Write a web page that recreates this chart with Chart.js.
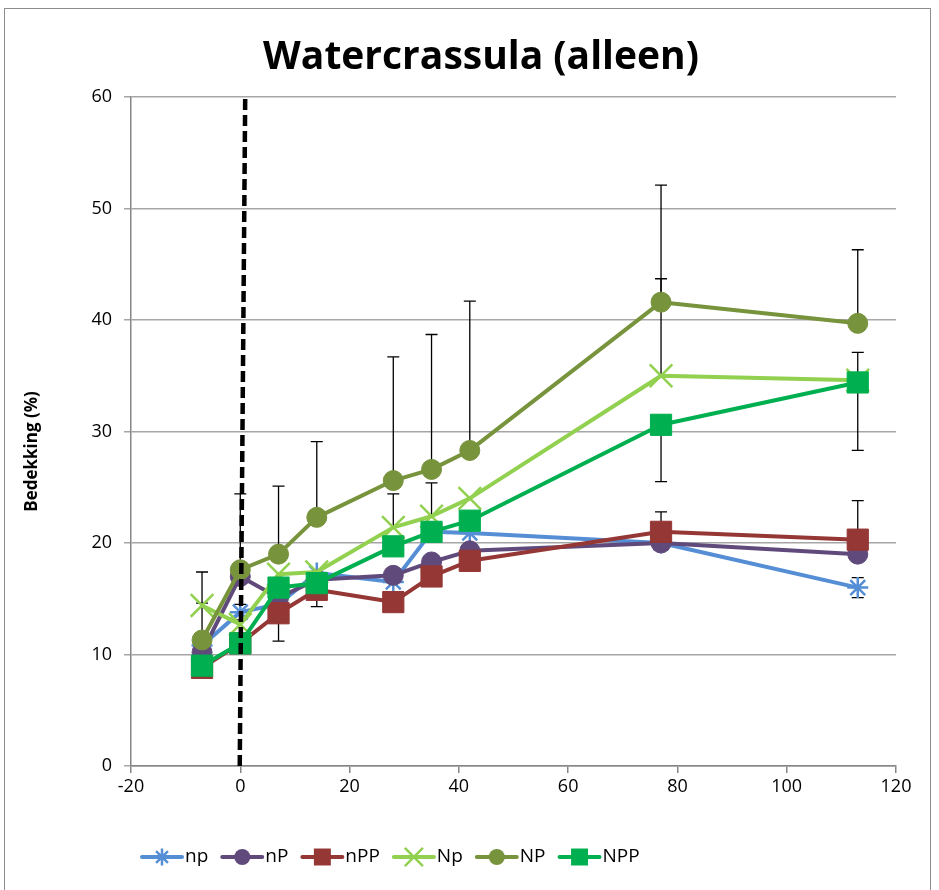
<!DOCTYPE html>
<html>
<head>
<meta charset="utf-8">
<script src="https://cdn.jsdelivr.net/npm/chart.js@4.4.0/dist/chart.umd.min.js"></script>
<style>
  html, body { margin: 0; padding: 0; background: #fff; }
  #wrap { position: relative; width: 939px; height: 890px; overflow: hidden; }
  #frame { position: absolute; left: 4px; top: 8px; width: 927px; height: 900px; border: 1.5px solid #8c8c8c; box-sizing: border-box; }
  canvas { position: absolute; left: 0; top: 0; }
</style>
</head>
<body>
<div id="wrap">
  <div id="frame"></div>
  <canvas id="chart" width="939" height="890"></canvas>
</div>
<script>
const FONT = '"Open Sans", "Liberation Sans", sans-serif';

// days relative to start of treatment
const days = [-7, 0, 7, 14, 28, 35, 42, 77, 113];

// Bedekking (%) per treatment
const npValues  = [10.8, 13.8, 14.5, 17.3, 16.5, 21.0, 20.9, 20.0, 16.0];
const nPValues  = [10.2, 17.0, 15.1, 16.7, 17.1, 18.3, 19.3, 20.0, 19.0];
const nPPValues = [8.8, 11.0, 13.7, 15.8, 14.7, 17.0, 18.4, 21.0, 20.3];
const NpValues  = [14.4, 12.7, 17.2, 17.4, 21.4, 22.4, 24.0, 35.0, 34.6];
const NPValues  = [11.3, 17.6, 19.0, 22.3, 25.6, 26.6, 28.3, 41.6, 39.7];
const NPPValues = [9.0, 11.0, 16.0, 16.4, 19.7, 21.0, 22.0, 30.6, 34.4];

// error bars (up / down), null = not shown
const npErrUp    = [null, 0.7, null, null, null, null, null, null, 0.9];
const npErrDown  = [null, 0.7, null, null, null, null, null, null, 0.9];
const nPPErrUp   = [null, null, null, null, null, null, null, 1.8, 3.5];
const nPPErrDown = [null, null, 2.5, 1.5, null, null, null, null, null];
const NpErrUp    = [3.0, null, null, null, 3.0, 3.0, null, 8.7, null];
const NpErrDown  = [null, null, null, null, null, null, null, null, 6.3];
const NPErrUp    = [3.3, 6.8, 6.1, 6.8, 11.1, 12.1, 13.4, 10.5, 6.6];
const NPPErrUp   = [null, null, null, null, null, null, null, null, 2.7];
const NPPErrDown = [null, null, null, null, null, null, null, 5.1, null];

// dashed marker line at day 0
const refLineX = [-0.1, 0.9];
const refLineY = [0, 60];

const xTicks = [-20, 0, 20, 40, 60, 80, 100, 120];

const series = [
  { label: 'np',  values: npValues,  color: '#558ED5', style: 'star',     radius: 10.5, bw: 2.5, up: npErrUp,  down: npErrDown },
  { label: 'nP',  values: nPValues,  color: '#604A7B', style: 'circle',   radius: 10,   bw: 1,   up: null,     down: null },
  { label: 'nPP', values: nPPValues, color: '#953735', style: 'rect',     radius: 15,   bw: 1,   up: nPPErrUp, down: nPPErrDown },
  { label: 'Np',  values: NpValues,  color: '#92D050', style: 'crossRot', radius: 16,   bw: 2.5, up: NpErrUp,  down: NpErrDown },
  { label: 'NP',  values: NPValues,  color: '#77933C', style: 'circle',   radius: 10,   bw: 1,   up: NPErrUp,  down: null },
  { label: 'NPP', values: NPPValues, color: '#00B050', style: 'rect',     radius: 15,   bw: 1,   up: NPPErrUp, down: NPPErrDown }
];

const datasets = series.map((s, i) => ({
  label: s.label,
  data: days.map((d, k) => ({ x: d, y: s.values[k] })),
  borderColor: s.color,
  backgroundColor: s.color,
  borderWidth: 4,
  borderJoinStyle: 'round',
  borderCapStyle: 'round',
  pointStyle: s.style,
  pointRadius: s.radius,
  pointHoverRadius: s.radius,
  pointBorderWidth: s.bw,
  pointBackgroundColor: s.color,
  pointBorderColor: s.color,
  tension: 0,
  order: series.length - i
}));

datasets.push({
  label: '',
  data: refLineX.map((x, k) => ({ x: x, y: refLineY[k] })),
  borderColor: '#000',
  borderWidth: 4.5,
  borderDash: [11, 5],
  pointRadius: 0,
  order: 0
});

function drawMarker(ctx, style, r, x, y) {
  ctx.beginPath();
  if (style === 'circle') {
    ctx.arc(x, y, r, 0, Math.PI * 2);
    ctx.fill();
  } else if (style === 'rect') {
    const h = r * Math.SQRT1_2;
    ctx.fillRect(x - h, y - h, 2 * h, 2 * h);
  } else {
    const d = r * Math.SQRT1_2;
    ctx.moveTo(x - d, y - d); ctx.lineTo(x + d, y + d);
    ctx.moveTo(x - d, y + d); ctx.lineTo(x + d, y - d);
    if (style === 'star') {
      ctx.moveTo(x, y - r); ctx.lineTo(x, y + r);
      ctx.moveTo(x - r, y); ctx.lineTo(x + r, y);
    }
    ctx.stroke();
  }
}

const errorBars = {
  id: 'errorBars',
  beforeDatasetsDraw(chart) {
    const { ctx, scales } = chart;
    const xs = scales.x, ys = scales.y;
    ctx.save();
    ctx.strokeStyle = '#000';
    ctx.lineWidth = 1.3;
    series.forEach(s => {
      days.forEach((d, k) => {
        const px = xs.getPixelForValue(d);
        const py = ys.getPixelForValue(s.values[k]);
        [[s.up, 1], [s.down, -1]].forEach(([arr, sign]) => {
          if (!arr || arr[k] == null) return;
          const ey = ys.getPixelForValue(s.values[k] + sign * arr[k]);
          ctx.beginPath();
          ctx.moveTo(px, py); ctx.lineTo(px, ey);
          ctx.moveTo(px - 6, ey); ctx.lineTo(px + 6, ey);
          ctx.stroke();
        });
      });
    });
    ctx.restore();
  }
};

const extras = {
  id: 'extras',
  afterDraw(chart) {
    const { ctx, chartArea } = chart;
    // chart title
    ctx.save();
    ctx.font = 'bold 39px ' + FONT;
    ctx.fillStyle = '#000';
    ctx.textAlign = 'center';
    ctx.textBaseline = 'middle';
    ctx.fillText('Watercrassula (alleen)', 481, 58);
    ctx.restore();

    // y axis title
    ctx.save();
    ctx.translate(32, (chartArea.top + chartArea.bottom) / 2 + 20);
    ctx.rotate(-Math.PI / 2);
    ctx.font = 'bold 17px ' + FONT;
    ctx.fillStyle = '#000';
    ctx.textAlign = 'center';
    ctx.textBaseline = 'middle';
    ctx.fillText('Bedekking (%)', 0, 0);
    ctx.restore();

    // legend
    ctx.save();
    ctx.font = '19px ' + FONT;
    ctx.textBaseline = 'middle';
    let x = 142;
    const y = 857;
    series.forEach(s => {
      ctx.strokeStyle = s.color;
      ctx.fillStyle = s.color;
      ctx.lineWidth = 4;
      ctx.lineCap = 'round';
      ctx.beginPath();
      ctx.moveTo(x, y); ctx.lineTo(x + 40, y);
      ctx.stroke();
      ctx.lineWidth = s.bw;
      ctx.lineCap = 'butt';
      drawMarker(ctx, s.style, s.radius * 0.8, x + 20, y);
      ctx.fillStyle = '#000';
      ctx.fillText(s.label, x + 43, y);
      x += 43 + ctx.measureText(s.label).width + 14;
    });
    ctx.restore();
  }
};

new Chart(document.getElementById('chart'), {
  type: 'line',
  data: { datasets: datasets },
  options: {
    responsive: false,
    animation: false,
    events: [],
    layout: { padding: { top: 97, right: 43, bottom: 84, left: 0 } },
    plugins: {
      legend: { display: false },
      tooltip: { enabled: false },
      title: { display: false }
    },
    scales: {
      x: {
        type: 'linear',
        min: -20,
        max: 120,
        afterBuildTicks: axis => { axis.ticks = xTicks.map(v => ({ value: v })); },
        afterFit: axis => { axis.height = 40; },
        ticks: { color: '#000', font: { family: FONT, size: 18 }, padding: 3 },
        grid: { drawOnChartArea: false, drawTicks: true, tickLength: 7, color: '#868686', lineWidth: 1.5 },
        border: { display: true, color: '#868686', width: 1.5 }
      },
      y: {
        min: 0,
        max: 60,
        afterFit: axis => { axis.width = 131; },
        ticks: { stepSize: 10, color: '#000', font: { family: FONT, size: 18 }, padding: 12 },
        grid: { color: '#a6a6a6', lineWidth: 1.5, tickLength: 7, drawTicks: true },
        border: { display: true, color: '#868686', width: 1.5 }
      }
    }
  },
  plugins: [errorBars, extras]
});
</script>
</body>
</html>
